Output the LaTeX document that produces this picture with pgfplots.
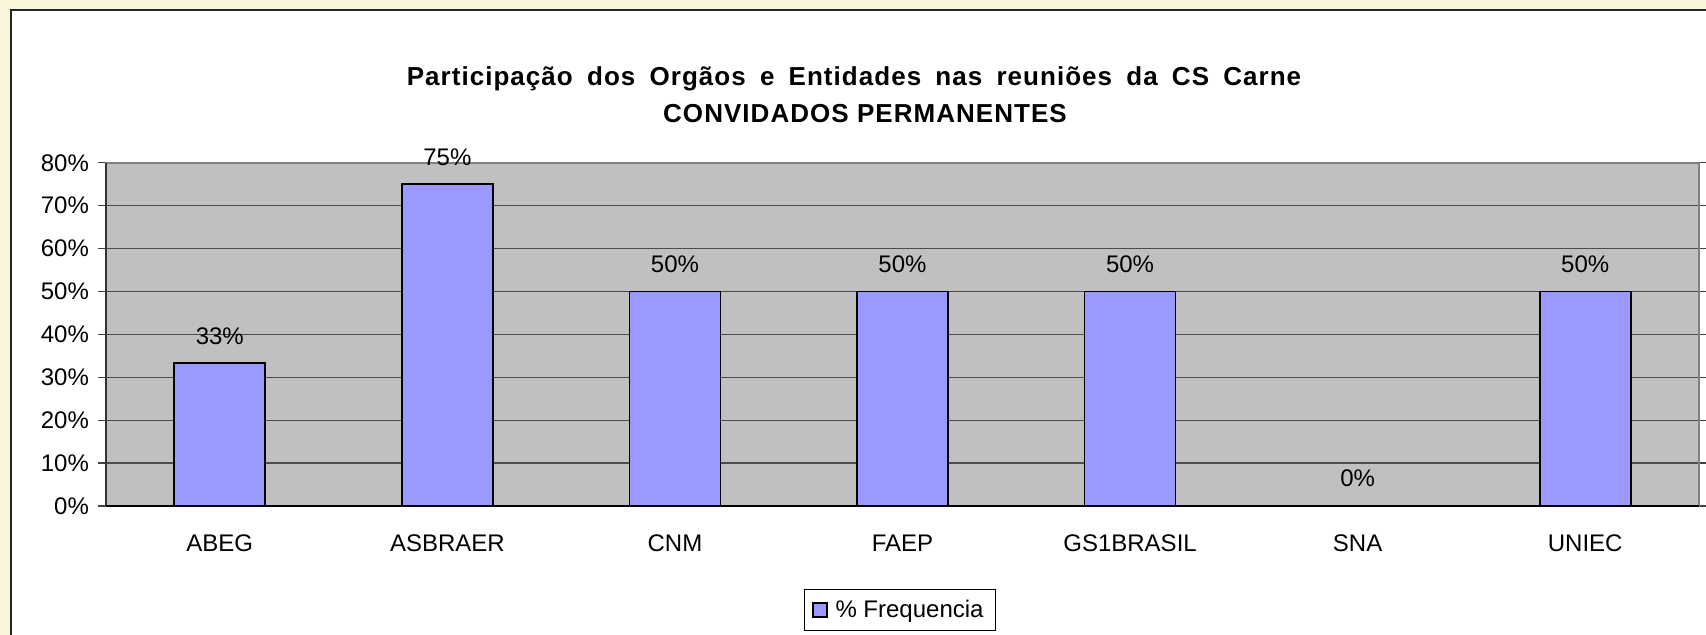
\documentclass[border=0pt]{standalone}
\usepackage{pgfplots}
\pgfplotsset{compat=1.18}
\usepackage{fontspec}
\setmainfont{Liberation Sans}
\definecolor{cream}{RGB}{249,245,218}
\definecolor{plotgray}{RGB}{192,192,192}
\definecolor{barblue}{RGB}{153,153,255}
\begin{document}
\begin{tikzpicture}
% canvas background
\fill[cream] (-53pt,-64.5pt) rectangle (800pt,253pt);
\fill[white] (-47.5pt,-70pt) rectangle (810pt,248pt);
\draw[line width=0.8pt, black!85] (-47.5pt,-70pt) -- (-47.5pt,248pt) -- (810pt,248pt);
\begin{axis}[
  at={(0,0)}, anchor=south west,
  scale only axis, width=796.5pt, height=171.6pt,
  xmin=-0.5, xmax=6.5, ymin=0, ymax=80,
  ybar, bar width=0.4,
  axis background/.style={fill=plotgray},
  axis line style={draw=black!50, line width=0.8pt},
  xtick={0,...,6},
  xticklabels={ABEG,ASBRAER,CNM,FAEP,GS1BRASIL,SNA,UNIEC},
  x tick style={draw=none},
  extra x ticks={-0.5,0.5,...,6.5},
  extra x tick labels={},
  extra x tick style={tick align=outside, major tick length=4pt, tick style={draw=black!80, line width=0.6pt}, grid=none},
  ytick={0,10,...,80},
  yticklabels={0\%,10\%,20\%,30\%,40\%,50\%,60\%,70\%,80\%},
  y tick style={draw=black!75, line width=0.6pt},
  tick align=outside, major tick length=4pt,
  ymajorgrids, grid style={draw=black!70, line width=0.6pt},
  ticklabel style={font=\fontsize{12}{14}\selectfont},
  xticklabel style={yshift=-7pt},
  yticklabel style={xshift=-1pt},
  /pgf/number format/assume math mode=true,
  nodes near coords={\pgfmathprintnumber[fixed,precision=0]{\pgfplotspointmeta}\%},
  every node near coord/.append style={font=\fontsize{12}{14}\selectfont, anchor=base, yshift=9.5pt, black},
  legend style={at={(axis description cs:0.4984,-0.303)}, anchor=center, draw=black, line width=0.6pt, font=\fontsize{12}{14}\selectfont, inner xsep=4pt, inner ysep=3pt},
  legend image code/.code={\draw[fill=barblue, draw=black, line width=0.6pt] (0pt,-3.5pt) rectangle (7pt,3.5pt);},
  legend cell align=left,
  legend style={/tikz/every even column/.append style={column sep=2pt}},
  clip=false,
]
\addplot[fill=barblue, draw=black, line width=0.8pt] coordinates {(0,33.33) (1,75) (2,50) (3,50) (4,50) (5,0) (6,50)};
\addlegendentry{\hspace{2pt}\% Frequencia}
\draw[black!80, line width=0.8pt] (rel axis cs:0,0) -- (rel axis cs:0,1);
\draw[black, line width=0.8pt] (rel axis cs:0,0) -- (rel axis cs:1,0);
\end{axis}
\node[font=\bfseries\fontsize{13}{15}\selectfont\addfontfeature{LetterSpace=4}] at (374pt,213.5pt) {\spaceskip=7.1pt Participação dos Orgãos e Entidades nas reuniões da CS Carne};
\node[font=\bfseries\fontsize{13}{15}\selectfont\addfontfeature{LetterSpace=4}] at (379.5pt,196pt) {CONVIDADOS PERMANENTES};
\pgfresetboundingbox
\path[use as bounding box] (-53pt,-64.5pt) rectangle (800pt,253pt);
\end{tikzpicture}
\end{document}
